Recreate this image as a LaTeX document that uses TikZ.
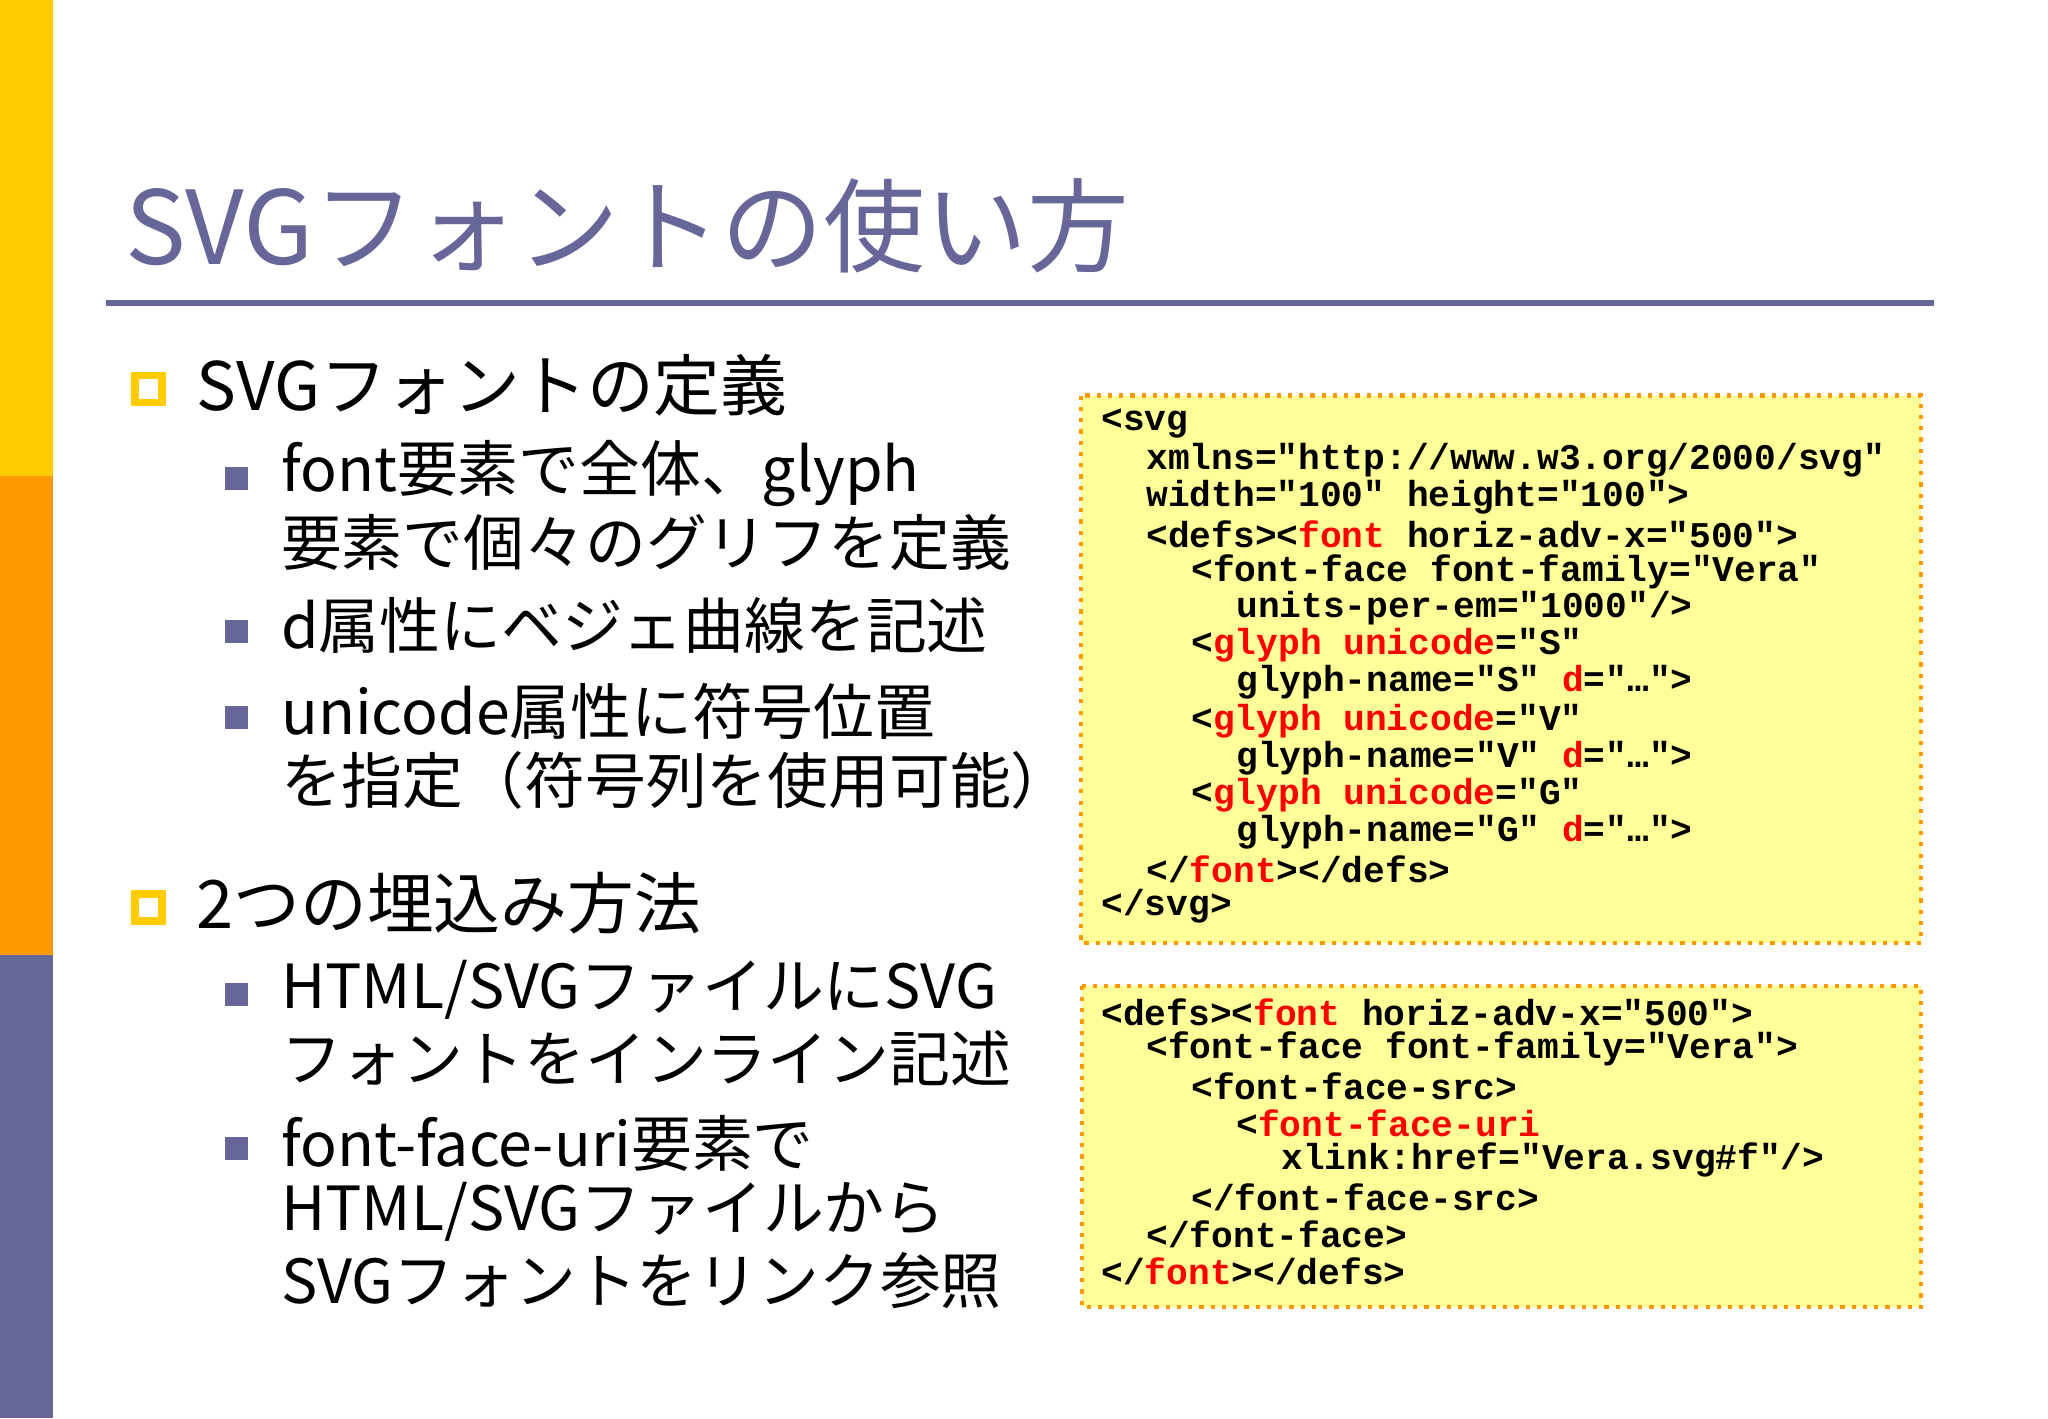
\documentclass[tikz,border=0pt]{standalone}
\usepackage{fontspec}
\setmainfont{Noto Sans CJK JP}
\setmonofont{Liberation Mono}
\definecolor{pur}{HTML}{666699}
\definecolor{ylw}{HTML}{FFCC00}
\definecolor{org}{HTML}{FF9900}
\definecolor{codebg}{HTML}{FFFF99}
\newcommand{\Rd}[1]{\textcolor{red}{#1}}
\tikzset{
 ttl/.style={anchor=base west,text=pur,font=\fontsize{29}{29}\selectfont,inner sep=0},
 lvl1/.style={anchor=west,font=\fontsize{19}{20}\selectfont,inner sep=0},
 lvl2/.style={anchor=west,font=\fontsize{17.3}{18}\selectfont,inner sep=0},
 code/.style={anchor=west,font=\ttfamily\bfseries\fontsize{10.3}{10.3}\selectfont,inner sep=0},
 cbox/.style={fill=codebg,draw=org,line width=1.2pt,dotted},
 ob/.style={draw=ylw,line width=2.2pt,fill=white,minimum size=0.27cm,inner sep=0},
 pb/.style={fill=pur,minimum size=0.23cm,inner sep=0}
}
\begin{document}
\begin{tikzpicture}[x=0.01323cm,y=-0.01323cm]
\useasboundingbox (0,0) rectangle (1548,1072);
\fill[ylw] (0,0) rectangle (40,360);
\fill[org] (0,360) rectangle (40,722);
\fill[pur] (0,722) rectangle (40,1072);
\node[ttl] (title) at (94,200) {SVGフォントの使い方};
\draw[pur,line width=1.5pt] (80,229) -- (1462,229);
\node[ob] (b1) at (112,294) {};
\node[lvl1] (t1) at (148,291) {SVGフォントの定義};
\node[pb] (s1) at (179,362) {};
\node[lvl2] at (212,358) {font要素で全体、glyph};
\node[lvl2] at (212,410) {要素で個々のグリフを定義};
\node[pb] (s2) at (179,477) {};
\node[lvl2] at (212,473) {d属性にベジェ曲線を記述};
\node[pb] (s3) at (179,542) {};
\node[lvl2] at (212,538) {unicode属性に符号位置};
\node[lvl2] at (212,590) {を指定（符号列を使用可能）};
\node[ob] (b2) at (112,686) {};
\node[lvl1] (t2) at (148,683) {2つの埋込み方法};
\node[pb] (s4) at (179,752) {};
\node[lvl2] at (212,748) {HTML/SVGファイルにSVG};
\node[lvl2] at (212,800) {フォントをインライン記述};
\node[pb] (s5) at (179,868) {};
\node[lvl2] at (212,864) {font-face-uri要素で};
\node[lvl2] at (212,916) {HTML/SVGファイルから};
\node[lvl2] at (212,968) {SVGフォントをリンク参照};
\draw[cbox] (817,299) rectangle (1452,713);
\node[code] at (832,320) {<svg};
\node[code] at (866,348) {xmlns="http://www.w3.org/2000/svg"};
\node[code] at (866,376) {width="100" height="100">};
\node[code] at (866,404) {<defs><\Rd{font} horiz-adv-x="500">};
\node[code] at (900,432) {<font-face font-family="Vera"};
\node[code] at (934,460) {units-per-em="1000"/>};
\node[code] at (900,488) {<\Rd{glyph unicode}="S"};
\node[code] at (934,516) {glyph-name="S" \Rd{d}="…">};
\node[code] at (900,545) {<\Rd{glyph unicode}="V"};
\node[code] at (934,573) {glyph-name="V" \Rd{d}="…">};
\node[code] at (900,601) {<\Rd{glyph unicode}="G"};
\node[code] at (934,629) {glyph-name="G" \Rd{d}="…">};
\node[code] at (866,657) {</\Rd{font}></defs>};
\node[code] at (832,685) {</svg>};
\draw[cbox] (818,745) rectangle (1452,988);
\node[code] at (832,765) {<defs><\Rd{font} horiz-adv-x="500">};
\node[code] at (866,793) {<font-face font-family="Vera">};
\node[code] at (900,821) {<font-face-src>};
\node[code] at (934,849) {<\Rd{font-face-uri}};
\node[code] at (968,877) {xlink:href="Vera.svg\#f"/>};
\node[code] at (900,905) {</font-face-src>};
\node[code] at (866,933) {</font-face>};
\node[code] at (832,961) {</\Rd{font}></defs>};
\end{tikzpicture}
\end{document}
